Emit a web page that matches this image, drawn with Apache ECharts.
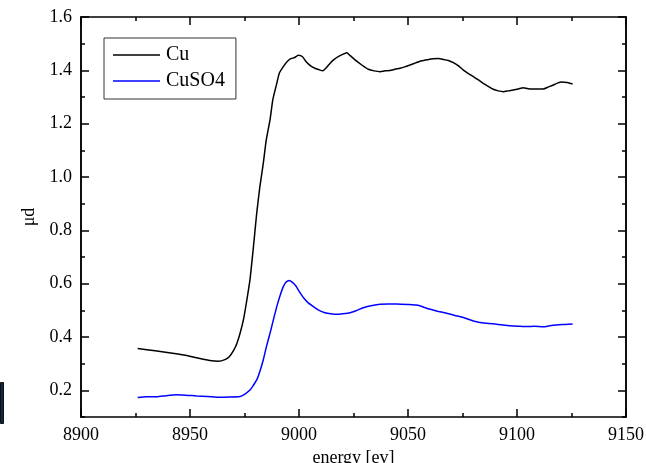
<!DOCTYPE html>
<html>
<head>
<meta charset="utf-8">
<script src="https://cdn.jsdelivr.net/npm/echarts@6/dist/echarts.min.js"></script>
<style>
  html, body { margin: 0; padding: 0; background: #fff; }
  #chart { width: 646px; height: 463px; }
</style>
</head>
<body>
<div id="chart"></div>
<script>
// Cu K-edge absorption: metallic Cu foil vs. CuSO4
const cuEnergy = [8926, 8934, 8942, 8949, 8953, 8959, 8963, 8966, 8968, 8970, 8971.5, 8973, 8974.5, 8976, 8977.5, 8979, 8980.6, 8982, 8983.6, 8985, 8986.7, 8988, 8989.8, 8991, 8992.8, 8994.5, 8996, 8998, 8999.7, 9001.5, 9003.5, 9005.5, 9007.3, 9009, 9010.9, 9012.5, 9014.2, 9016, 9018, 9020, 9021.9, 9023.5, 9025.7, 9028.8, 9031.8, 9034.5, 9037.2, 9039.5, 9041.7, 9044, 9046.3, 9048.5, 9050.9, 9053.5, 9056.3, 9059, 9061.6, 9064, 9066.2, 9068.5, 9070.8, 9073, 9075.4, 9077.7, 9080, 9082.3, 9084.5, 9086.8, 9089.1, 9091.4, 9093.7, 9096, 9098.3, 9100.6, 9102.9, 9105, 9107.5, 9110, 9112, 9114.5, 9116.7, 9118.5, 9120.5, 9123, 9125.5];
const cuMu = [0.357, 0.348, 0.339, 0.330, 0.322, 0.312, 0.309, 0.315, 0.326, 0.350, 0.376, 0.415, 0.464, 0.535, 0.614, 0.73, 0.864, 0.96, 1.05, 1.14, 1.214, 1.29, 1.351, 1.39, 1.414, 1.432, 1.443, 1.448, 1.457, 1.452, 1.430, 1.416, 1.408, 1.403, 1.398, 1.410, 1.426, 1.440, 1.451, 1.460, 1.466, 1.455, 1.439, 1.420, 1.404, 1.398, 1.395, 1.398, 1.399, 1.404, 1.408, 1.413, 1.420, 1.428, 1.436, 1.440, 1.443, 1.444, 1.441, 1.437, 1.429, 1.418, 1.401, 1.388, 1.376, 1.364, 1.351, 1.340, 1.329, 1.323, 1.320, 1.323, 1.326, 1.330, 1.335, 1.331, 1.330, 1.330, 1.330, 1.338, 1.345, 1.352, 1.356, 1.354, 1.349];

const cuso4Energy = [8926, 8930, 8934.7, 8939, 8943.9, 8948, 8953, 8958, 8963.8, 8968, 8972.9, 8975, 8977.5, 8979, 8980.6, 8982, 8983.6, 8985, 8986.7, 8988.3, 8989.8, 8991.3, 8992.8, 8994, 8995.5, 8997, 8998.5, 9000, 9002, 9004, 9006.6, 9009, 9011.9, 9014.5, 9017.3, 9020, 9023.4, 9026.5, 9029.5, 9033, 9037.2, 9041, 9044.8, 9050, 9054.7, 9057.5, 9060.1, 9064, 9067.7, 9071.5, 9075.4, 9079, 9083, 9087, 9090.7, 9094.5, 9098.3, 9101.5, 9104.4, 9108, 9112, 9115, 9118.2, 9122, 9125.5];
const cuso4Mu = [0.173, 0.176, 0.176, 0.180, 0.183, 0.182, 0.179, 0.177, 0.174, 0.175, 0.177, 0.185, 0.201, 0.218, 0.239, 0.270, 0.314, 0.362, 0.414, 0.466, 0.514, 0.555, 0.589, 0.605, 0.612, 0.605, 0.592, 0.572, 0.548, 0.530, 0.514, 0.501, 0.491, 0.487, 0.485, 0.487, 0.491, 0.500, 0.510, 0.517, 0.523, 0.524, 0.524, 0.522, 0.519, 0.511, 0.504, 0.496, 0.489, 0.481, 0.473, 0.463, 0.454, 0.451, 0.448, 0.444, 0.441, 0.440, 0.439, 0.440, 0.438, 0.442, 0.445, 0.447, 0.449];

const seriesNames = ['Cu', 'CuSO4'];
const yMajorTicks = [0.2, 0.4, 0.6, 0.8, 1.0, 1.2, 1.4, 1.6];
const yMinorTicks = [0.1, 0.3, 0.5, 0.7, 0.9, 1.1, 1.3, 1.5];

const pairs = (xs, ys) => xs.map((x, i) => [x, ys[i]]);

const FONT = '"Liberation Serif", "Times New Roman", serif';
const axisLine = { show: true, lineStyle: { color: '#000', width: 1.5 } };

function yAxisDef(opts) {
  return Object.assign({
    type: 'value', min: 0.1, max: 1.6,
    axisLine: axisLine,
    splitLine: { show: false },
    axisLabel: { show: false }
  }, opts);
}

const chart = echarts.init(document.getElementById('chart'), null, { renderer: 'canvas' });
chart.setOption({
  animation: false,
  backgroundColor: '#fff',
  grid: { left: 81, right: 20, top: 17, bottom: 46, containLabel: false, outerBoundsMode: 'none' },
  textStyle: { fontFamily: FONT },
  legend: {
    orient: 'vertical',
    left: 104, top: 38,
    data: seriesNames,
    icon: 'rect',
    itemWidth: 47, itemHeight: 1.6,
    itemGap: 6,
    padding: [7, 11, 8, 9],
    borderColor: '#333', borderWidth: 1,
    textStyle: { fontFamily: FONT, fontSize: 20, color: '#000', lineHeight: 20, padding: [0, 0, 0, 1] }
  },
  xAxis: [{
    type: 'value', min: 8900, max: 9150, interval: 50,
    position: 'bottom',
    name: 'energy [ev]', nameLocation: 'middle', nameGap: 29,
    nameTextStyle: { fontFamily: FONT, fontSize: 18, color: '#000' },
    axisLine: axisLine,
    axisTick: { inside: true, length: 8, lineStyle: { color: '#000', width: 1.5 } },
    minorTick: { show: true, splitNumber: 2, length: 4, lineStyle: { color: '#000', width: 1.5 } },
    axisLabel: { fontFamily: FONT, fontSize: 18, color: '#000', margin: 9, formatter: v => String(v) },
    splitLine: { show: false }
  }, {
    type: 'value', min: 8900, max: 9150, interval: 50,
    position: 'top',
    axisLine: axisLine,
    axisTick: { inside: true, length: 8, lineStyle: { color: '#000', width: 1.5 } },
    minorTick: { show: true, splitNumber: 2, length: 4, lineStyle: { color: '#000', width: 1.5 } },
    axisLabel: { show: false },
    splitLine: { show: false }
  }],
  yAxis: [
    yAxisDef({
      position: 'left',
      name: 'μd', nameLocation: 'middle', nameGap: 42,
      nameTextStyle: { fontFamily: FONT, fontSize: 18, color: '#000' },
      axisTick: { inside: true, length: 8, customValues: yMajorTicks, lineStyle: { color: '#000', width: 1.5 } },
      axisLabel: {
        show: true, customValues: yMajorTicks, fontFamily: FONT, fontSize: 18, color: '#000', margin: 9,
        formatter: v => v.toFixed(1)
      }
    }),
    yAxisDef({
      position: 'left', offset: 0,
      axisTick: { inside: true, length: 4, customValues: yMinorTicks, lineStyle: { color: '#000', width: 1.5 } }
    }),
    yAxisDef({
      position: 'right',
      axisTick: { inside: true, length: 8, customValues: yMajorTicks, lineStyle: { color: '#000', width: 1.5 } }
    }),
    yAxisDef({
      position: 'right', offset: 0,
      axisTick: { inside: true, length: 4, customValues: yMinorTicks, lineStyle: { color: '#000', width: 1.5 } }
    })
  ],
  series: [{
    name: seriesNames[0], type: 'line',
    data: pairs(cuEnergy, cuMu),
    showSymbol: false, smooth: 0.2,
    lineStyle: { color: '#000', width: 1.5 },
    itemStyle: { color: '#000' }
  }, {
    name: seriesNames[1], type: 'line',
    data: pairs(cuso4Energy, cuso4Mu),
    showSymbol: false, smooth: 0.2,
    lineStyle: { color: '#0000ff', width: 1.5 },
    itemStyle: { color: '#0000ff' }
  }],
  graphic: [{
    type: 'rect', left: 0, top: 382,
    shape: { width: 3, height: 41 },
    style: { fill: '#0b2848', stroke: '#111', lineWidth: 1 }
  }]
});
</script>
</body>
</html>
